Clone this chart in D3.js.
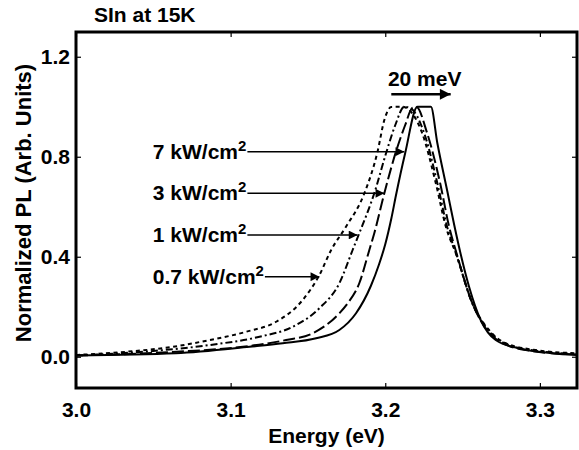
<!DOCTYPE html>
<html>
<head>
<meta charset="utf-8">
<script src="https://cdn.jsdelivr.net/npm/d3@7"></script>
<style>
  body { margin: 0; background: #fff; }
  text { font-family: "Liberation Sans", Arial, sans-serif; font-weight: bold; fill: #000; }
</style>
</head>
<body>
<div id="chart"></div>
<script>
// PL spectra, SIn at 15K
const e7  = [3.000, 3.0645, 3.1123, 3.1337, 3.1553, 3.1703, 3.1811, 3.1908, 3.1960, 3.2000, 3.2040, 3.2069, 3.2129, 3.2208, 3.2295, 3.2337, 3.2402, 3.2445, 3.2488, 3.2542, 3.2617, 3.2714, 3.2865, 3.3079, 3.324];
const pl7 = [0.005, 0.014, 0.040, 0.054, 0.074, 0.107, 0.174, 0.285, 0.370, 0.450, 0.555, 0.645, 0.815, 1.000, 1.000, 0.854, 0.660, 0.530, 0.410, 0.280, 0.147, 0.067, 0.034, 0.014, 0.007];

const e3  = [3.000, 3.065, 3.1079, 3.1359, 3.1531, 3.1703, 3.1757, 3.1832, 3.1897, 3.1929, 3.1994, 3.2069, 3.2129, 3.2174, 3.2200, 3.2271, 3.2355, 3.2413, 3.2461, 3.2563, 3.2658, 3.2755, 3.2948, 3.324];
const pl3 = [0.005, 0.020, 0.040, 0.067, 0.094, 0.174, 0.214, 0.294, 0.427, 0.494, 0.654, 0.820, 0.927, 0.995, 1.000, 0.894, 0.694, 0.520, 0.414, 0.214, 0.107, 0.055, 0.023, 0.009];

const e1  = [3.000, 3.0434, 3.0865, 3.1187, 3.1402, 3.1574, 3.1703, 3.1789, 3.1832, 3.1929, 3.2008, 3.2065, 3.2123, 3.2161, 3.2252, 3.2337, 3.2400, 3.2458, 3.2563, 3.2665, 3.2768, 3.2961, 3.324];
const pl1 = [0.005, 0.020, 0.047, 0.080, 0.120, 0.194, 0.294, 0.427, 0.494, 0.654, 0.820, 0.927, 1.000, 0.995, 0.894, 0.694, 0.520, 0.414, 0.214, 0.107, 0.055, 0.025, 0.011];

const e07  = [3.000, 3.0327, 3.0628, 3.0865, 3.1101, 3.1295, 3.1466, 3.1574, 3.1650, 3.1746, 3.1865, 3.1950, 3.1994, 3.2039, 3.2110, 3.2155, 3.2239, 3.2327, 3.2392, 3.2456, 3.2563, 3.2671, 3.2779, 3.2972, 3.324];
const pl07 = [0.007, 0.020, 0.040, 0.067, 0.100, 0.140, 0.227, 0.327, 0.427, 0.520, 0.654, 0.820, 0.947, 0.999, 1.000, 0.987, 0.894, 0.694, 0.520, 0.414, 0.214, 0.107, 0.054, 0.027, 0.014];

// labels, the height of their arrows and the energy the arrow points to
const powerLabels = ["7 kW/cm", "3 kW/cm", "1 kW/cm", "0.7 kW/cm"];
const arrowLevel  = [0.82, 0.654, 0.487, 0.32];
const arrowTipE   = [3.2123, 3.1994, 3.1821, 3.1574];

const xTicks = [3.0, 3.1, 3.2, 3.3];
const yTicks = [0.0, 0.4, 0.8, 1.2];

const svgWidth = 579;
const svgHeight = 450;
const margin = { top: 32, right: 2, bottom: 62, left: 76 };
const width = svgWidth - margin.left - margin.right;
const height = svgHeight - margin.top - margin.bottom;
const fs = 21;

const svg = d3.select("#chart").append("svg")
  .attr("width", svgWidth)
  .attr("height", svgHeight);

const defs = svg.append("defs");
// small heads for the label arrows, a wider one for the shift arrow
[["head", 9, 5.5], ["bighead", 7, 4.5]].forEach(([id, w, h]) => {
  defs.append("marker")
    .attr("id", id)
    .attr("viewBox", "0 0 10 10")
    .attr("refX", 10).attr("refY", 5)
    .attr("markerWidth", w).attr("markerHeight", h)
    .attr("markerUnits", "strokeWidth")
    .attr("orient", "auto")
    .append("path").attr("d", "M0,0L10,5L0,10Z").attr("fill", "#000");
});

defs.append("clipPath").attr("id", "clip")
  .append("rect").attr("width", width).attr("height", height);

const chartGroup = svg.append("g")
  .attr("transform", `translate(${margin.left}, ${margin.top})`);

const x = d3.scaleLinear().domain([3.0, 3.324]).range([0, width]);
const y = d3.scaleLinear().domain([-0.125, 1.299]).range([height, 0]);

// axes, ticks pointing in on all four sides
const fmt = d3.format(".1f");
chartGroup.append("g")
  .attr("transform", `translate(0, ${height})`)
  .call(d3.axisBottom(x).tickValues(xTicks).tickFormat(fmt).tickSizeInner(-5).tickSizeOuter(0).tickPadding(14));
chartGroup.append("g")
  .call(d3.axisTop(x).tickValues(xTicks).tickFormat("").tickSizeInner(-5).tickSizeOuter(0));
chartGroup.append("g")
  .call(d3.axisLeft(y).tickValues(yTicks).tickFormat(fmt).tickSizeInner(-5).tickSizeOuter(0).tickPadding(6));
chartGroup.append("g")
  .attr("transform", `translate(${width}, 0)`)
  .call(d3.axisRight(y).tickValues(yTicks).tickFormat("").tickSizeInner(-5).tickSizeOuter(0));

chartGroup.selectAll(".domain").remove();
chartGroup.selectAll(".tick line").attr("stroke", "#000").attr("stroke-width", 1.2);
chartGroup.selectAll(".tick text")
  .style("font-size", fs + "px")
  .style("font-family", "Liberation Sans, Arial, sans-serif")
  .style("font-weight", "bold");

chartGroup.append("rect")
  .attr("width", width).attr("height", height)
  .attr("fill", "none").attr("stroke", "#000").attr("stroke-width", 3);

// curves
const series = [
  { e: e7,  v: pl7,  dash: null },
  { e: e3,  v: pl3,  dash: "12,4" },
  { e: e1,  v: pl1,  dash: "7,3,2,3" },
  { e: e07, v: pl07, dash: "4,3.5" }
];
const line = d3.line()
  .x(d => x(d[0]))
  .y(d => y(d[1]))
  .curve(d3.curveMonotoneX);

chartGroup.append("g").attr("clip-path", "url(#clip)")
  .selectAll("path")
  .data(series)
  .enter()
  .append("path")
  .attr("d", s => line(d3.zip(s.e, s.v)))
  .attr("fill", "none")
  .attr("stroke", "#000")
  .attr("stroke-width", 2)
  .attr("stroke-dasharray", s => s.dash);

// power labels with arrows
const labelX = x(3.0497);
powerLabels.forEach((lab, i) => {
  const yy = y(arrowLevel[i]);
  const t = chartGroup.append("text")
    .attr("x", labelX)
    .attr("y", yy + 7)
    .style("font-size", fs + "px");
  t.append("tspan").text(lab);
  t.append("tspan").text("2").attr("dy", -8).style("font-size", "15px");
  const w = t.node().getComputedTextLength();
  chartGroup.append("line")
    .attr("x1", labelX + w + 1).attr("y1", yy)
    .attr("x2", x(arrowTipE[i])).attr("y2", yy)
    .attr("stroke", "#000").attr("stroke-width", 1.6)
    .attr("marker-end", "url(#head)");
});

// 20 meV shift arrow
chartGroup.append("line")
  .attr("x1", x(3.2039)).attr("y1", y(1.05))
  .attr("x2", x(3.2423)).attr("y2", y(1.05))
  .attr("stroke", "#000").attr("stroke-width", 2.4)
  .attr("marker-end", "url(#bighead)");
chartGroup.append("text")
  .attr("x", x(3.2255)).attr("y", y(1.084))
  .attr("text-anchor", "middle")
  .style("font-size", fs + "px")
  .text("20 meV");

// titles
svg.append("text")
  .attr("x", 94).attr("y", 22)
  .style("font-size", fs + "px")
  .text("SIn  at 15K");

svg.append("text")
  .attr("x", margin.left + width / 2).attr("y", 443)
  .attr("text-anchor", "middle")
  .style("font-size", fs + "px")
  .text("Energy (eV)");

svg.append("text")
  .attr("transform", `translate(31, 203) rotate(-90)`)
  .attr("text-anchor", "middle")
  .style("font-size", "22px")
  .text("Normalized PL (Arb. Units)");
</script>
</body>
</html>
